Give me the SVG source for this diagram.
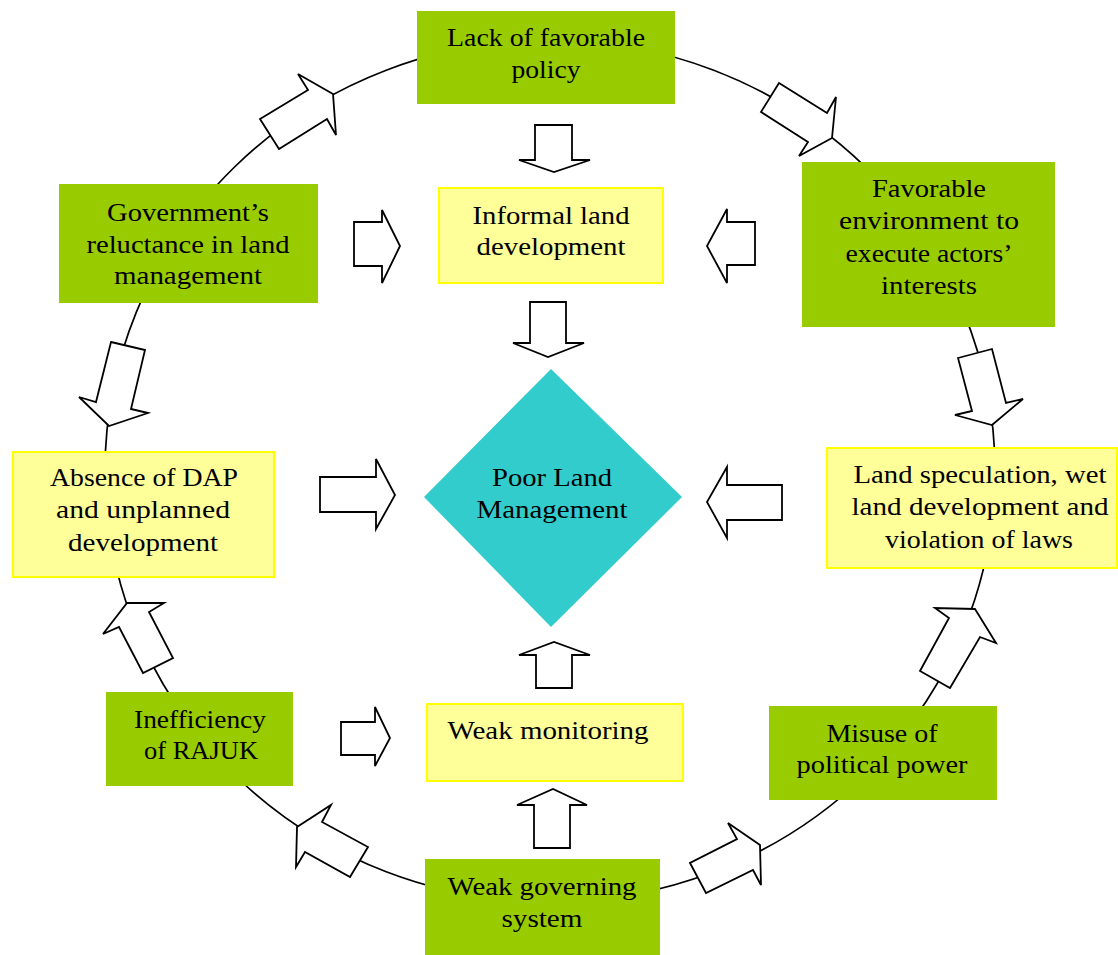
<svg xmlns="http://www.w3.org/2000/svg" width="1118" height="955" viewBox="0 0 1118 955">
  <style>
    .green { fill: #99CC00; }
    .yellow { fill: #FFFF99; stroke: #FFFF00; stroke-width: 2; }
    .diamond { fill: #33CCCC; }
    .ring { fill: none; stroke: #000; stroke-width: 1.7; }
    .arrow { fill: #fff; stroke: #000; stroke-width: 1.8; stroke-linejoin: miter; }
    text { font-family: "Liberation Serif", "Times New Roman", serif; font-size: 25.5px; fill: #000; text-anchor: middle; }
  </style>
  <rect width="1118" height="955" fill="#fff"/>

  <g id="connectors">
    <!-- the cycle ring -->
    <ellipse class="ring" cx="550" cy="471" rx="445" ry="431"/>
    <!-- curved-path block arrows along the ring (clockwise) -->
    <polygon class="arrow" points="260,119 308,90 298,74 333,94 336,135 327,119 279,149"/>
    <polygon class="arrow" points="779,83 827,113 836,97 832,138 799,156 808,142 761,112"/>
    <polygon class="arrow" points="958,358 992,349 1006,403 1023,399 992,425 955,415 972,411"/>
    <polygon class="arrow" points="975,609 996,643 980,637 950,688 920,671 949,618 935,608"/>
    <polygon class="arrow" points="690,863 706,893 753,870 761,885 760,845 728,823 737,839"/>
    <polygon class="arrow" points="297,827 331,805 322,822 368,847 350,877 305,852 296,867"/>
    <polygon class="arrow" points="127,603 164,603 149,612 173,658 143,673 119,627 103,634"/>
    <polygon class="arrow" points="111,342 145,350 131,409 148,413 109,426 79,397 96,402"/>
    <!-- straight block arrows toward the centre -->
    <polygon class="arrow" points="535,125 572,125 572,160 590,160 554,172 519,160 535,160"/>
    <polygon class="arrow" points="530,302 566,302 566,343 584,343 548,357 513,343 530,343"/>
    <polygon class="arrow" points="354,222 382,222 382,210 400,246 382,283 382,266 354,266"/>
    <polygon class="arrow" points="755,222 727,222 727,209 707,246 727,283 727,265 755,265"/>
    <polygon class="arrow" points="320,477 376,477 376,459 395,495 376,529 376,512 320,512"/>
    <polygon class="arrow" points="782,485 727,485 727,467 707,502 727,538 727,520 782,520"/>
    <polygon class="arrow" points="536,688 572,688 572,655 590,655 554,642 519,655 536,655"/>
    <polygon class="arrow" points="341,722 375,722 375,707 390,738 375,766 375,755 341,755"/>
    <polygon class="arrow" points="534,848 570,848 570,805 587,805 553,789 517,805 534,805"/>
  </g>

  <g id="lack-policy">
    <rect class="green" x="417" y="11" width="258" height="93"/>
    <text x="546" y="46" textLength="198" lengthAdjust="spacingAndGlyphs">Lack of favorable</text>
    <text x="546" y="78" textLength="69" lengthAdjust="spacingAndGlyphs">policy</text>
  </g>

  <g id="favorable-environment">
    <rect class="green" x="802" y="162" width="253" height="165"/>
    <text x="929" y="197" textLength="114" lengthAdjust="spacingAndGlyphs">Favorable</text>
    <text x="929" y="229" textLength="180" lengthAdjust="spacingAndGlyphs">environment to</text>
    <text x="929" y="262" textLength="167" lengthAdjust="spacingAndGlyphs">execute actors’</text>
    <text x="929" y="294" textLength="96" lengthAdjust="spacingAndGlyphs">interests</text>
  </g>

  <g id="government-reluctance">
    <rect class="green" x="59" y="184" width="259" height="119"/>
    <text x="188" y="221" textLength="162" lengthAdjust="spacingAndGlyphs">Government’s</text>
    <text x="188" y="253" textLength="203" lengthAdjust="spacingAndGlyphs">reluctance in land</text>
    <text x="188" y="284" textLength="148" lengthAdjust="spacingAndGlyphs">management</text>
  </g>

  <g id="informal-development">
    <rect class="yellow" x="439" y="188" width="224" height="95"/>
    <text x="551" y="224" textLength="157" lengthAdjust="spacingAndGlyphs">Informal land</text>
    <text x="551" y="255" textLength="149" lengthAdjust="spacingAndGlyphs">development</text>
  </g>

  <g id="absence-dap">
    <rect class="yellow" x="13" y="452" width="261" height="125"/>
    <text x="144" y="486" textLength="188" lengthAdjust="spacingAndGlyphs">Absence of DAP</text>
    <text x="143" y="518" textLength="174" lengthAdjust="spacingAndGlyphs">and unplanned</text>
    <text x="143" y="551" textLength="150" lengthAdjust="spacingAndGlyphs">development</text>
  </g>

  <g id="land-speculation">
    <rect class="yellow" x="827" y="448" width="290" height="120"/>
    <text x="980" y="483" textLength="253" lengthAdjust="spacingAndGlyphs">Land speculation, wet</text>
    <text x="980" y="515" textLength="257" lengthAdjust="spacingAndGlyphs">land development and</text>
    <text x="979" y="548" textLength="188" lengthAdjust="spacingAndGlyphs">violation of laws</text>
  </g>

  <g id="poor-land-management">
    <polygon class="diamond" points="551,369 682,497 551,627 424,497"/>
    <text x="552" y="486" textLength="120" lengthAdjust="spacingAndGlyphs">Poor Land</text>
    <text x="552" y="518" textLength="151" lengthAdjust="spacingAndGlyphs">Management</text>
  </g>

  <g id="inefficiency-rajuk">
    <rect class="green" x="106" y="692" width="187" height="94"/>
    <text x="200" y="728" textLength="132" lengthAdjust="spacingAndGlyphs">Inefficiency</text>
    <text x="201" y="759" textLength="114" lengthAdjust="spacingAndGlyphs">of RAJUK</text>
  </g>

  <g id="weak-monitoring">
    <rect class="yellow" x="427" y="704" width="256" height="77"/>
    <text x="548" y="739" textLength="201" lengthAdjust="spacingAndGlyphs">Weak monitoring</text>
  </g>

  <g id="misuse-power">
    <rect class="green" x="769" y="706" width="228" height="94"/>
    <text x="882" y="742" textLength="111" lengthAdjust="spacingAndGlyphs">Misuse of</text>
    <text x="882" y="773" textLength="171" lengthAdjust="spacingAndGlyphs">political power</text>
  </g>

  <g id="weak-governing">
    <rect class="green" x="425" y="859" width="235" height="96"/>
    <text x="542" y="895" textLength="189" lengthAdjust="spacingAndGlyphs">Weak governing</text>
    <text x="542" y="927" textLength="81" lengthAdjust="spacingAndGlyphs">system</text>
  </g>
</svg>
